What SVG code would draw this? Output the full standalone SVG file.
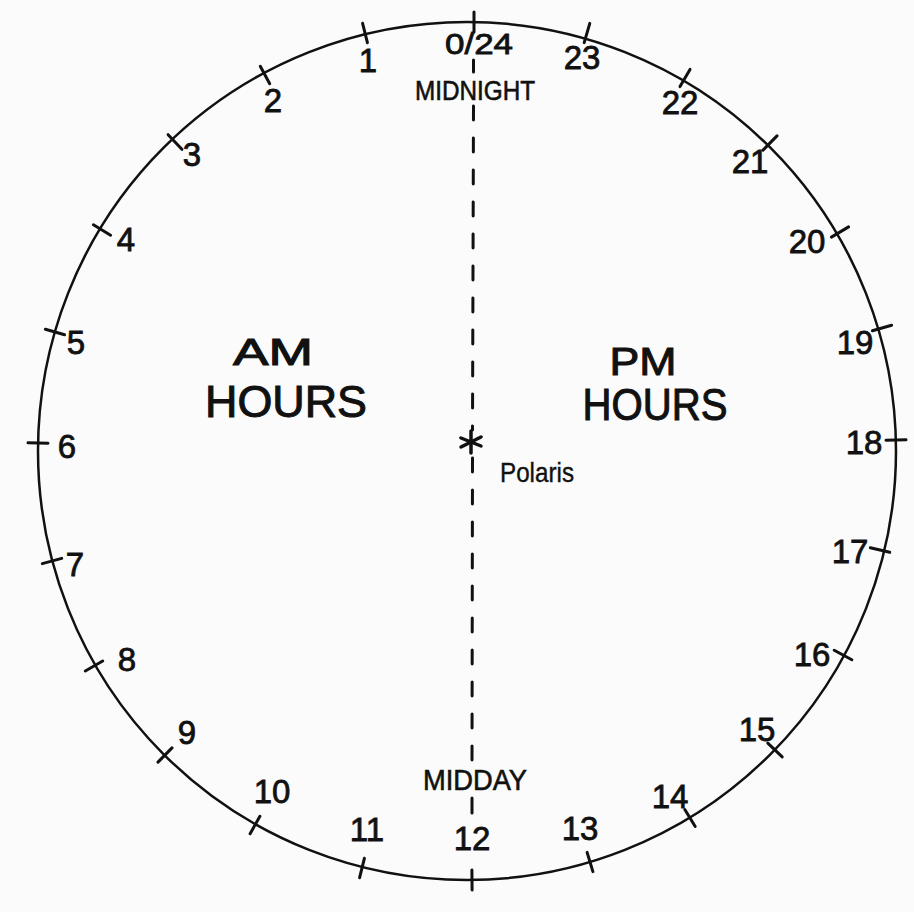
<svg xmlns="http://www.w3.org/2000/svg" width="914" height="912" viewBox="0 0 914 912">
<style>
.ink{stroke:#111;fill:none;stroke-linecap:round}
.tick{stroke:#111;stroke-width:3;stroke-linecap:round}
.num{font-family:"Liberation Sans","DejaVu Sans",sans-serif;font-size:33px;fill:#111;stroke:#111;stroke-width:0.8;text-anchor:middle}
.cap{font-family:"Liberation Sans","DejaVu Sans",sans-serif;font-size:27px;fill:#111;stroke:#111;stroke-width:0.6;text-anchor:middle}
.big{font-family:"Liberation Sans","DejaVu Sans",sans-serif;font-size:44px;fill:#111;stroke:#111;stroke-width:1;text-anchor:middle}
</style>
<rect width="914" height="912" fill="#fbfbfb"/>
<g id="dial">
<circle class="ink" cx="467" cy="451" r="429" stroke-width="2.5"/>
</g>
<g id="ticks">
<line class="tick" x1="474" y1="12" x2="474" y2="32"/>
<line class="tick" x1="362.6" y1="23.3" x2="367.4" y2="42.7"/>
<line class="tick" x1="260.3" y1="66.2" x2="269.7" y2="83.8"/>
<line class="tick" x1="168.1" y1="134.7" x2="181.9" y2="149.3"/>
<line class="tick" x1="93.4" y1="224.8" x2="110.6" y2="235.2"/>
<line class="tick" x1="45.4" y1="329.2" x2="64.6" y2="334.8"/>
<line class="tick" x1="28" y1="442.8" x2="48" y2="443.2"/>
<line class="tick" x1="61.7" y1="558.4" x2="42.3" y2="563.6"/>
<line class="tick" x1="102.7" y1="661" x2="85.3" y2="671"/>
<line class="tick" x1="172" y1="747.9" x2="158" y2="762.1"/>
<line class="tick" x1="259.9" y1="816.3" x2="250.1" y2="833.7"/>
<line class="tick" x1="364.4" y1="858.3" x2="359.6" y2="877.7"/>
<line class="tick" x1="471.9" y1="870" x2="472.1" y2="890"/>
<line class="tick" x1="587.1" y1="852.4" x2="592.9" y2="871.6"/>
<line class="tick" x1="684.8" y1="809.5" x2="695.2" y2="826.5"/>
<line class="tick" x1="767.8" y1="743.1" x2="782.2" y2="756.9"/>
<line class="tick" x1="834.2" y1="650.2" x2="851.8" y2="659.8"/>
<line class="tick" x1="870.3" y1="547.7" x2="889.7" y2="552.3"/>
<line class="tick" x1="886" y1="440.3" x2="906" y2="439.7"/>
<line class="tick" x1="872.4" y1="330.8" x2="891.6" y2="325.2"/>
<line class="tick" x1="831.4" y1="237.1" x2="848.6" y2="226.9"/>
<line class="tick" x1="763" y1="150.1" x2="777" y2="135.9"/>
<line class="tick" x1="680" y1="86.6" x2="690" y2="69.4"/>
<line class="tick" x1="584.2" y1="42.6" x2="589.8" y2="23.4"/>
</g>
<g id="connectors">
<line class="ink" stroke-width="3" x1="473.5" y1="60" x2="473.5" y2="72"/>
<line class="ink" stroke-width="3" stroke-dasharray="14 18" x1="473.5" y1="106" x2="472.5" y2="430"/>
<line class="ink" stroke-width="3" stroke-dasharray="14 18" x1="472.5" y1="458" x2="472" y2="764"/>
<line class="ink" stroke-width="3" x1="472" y1="798" x2="472" y2="813"/>
</g>
<g id="polaris">
<g class="ink" stroke-width="3.5" transform="translate(471,442)">
<line x1="0" y1="-11" x2="0" y2="11"/>
<line x1="-10" y1="-4" x2="10" y2="4"/>
<line x1="-10" y1="5" x2="10" y2="-5"/>
</g>
<text x="537" y="482" class="cap" style="font-size:28px;stroke-width:0.4" textLength="74" lengthAdjust="spacingAndGlyphs">Polaris</text>
</g>
<g id="labels">
<text x="479" y="54" class="num" style="font-size:30px" textLength="68" lengthAdjust="spacingAndGlyphs">0/24</text>
<text x="475" y="100" class="cap" textLength="120" lengthAdjust="spacingAndGlyphs">MIDNIGHT</text>
<text x="475" y="790" class="cap" style="font-size:29px" textLength="104" lengthAdjust="spacingAndGlyphs">MIDDAY</text>
<text x="368" y="72" class="num">1</text>
<text x="273" y="112" class="num">2</text>
<text x="192" y="166" class="num">3</text>
<text x="126" y="251" class="num">4</text>
<text x="76" y="354" class="num">5</text>
<text x="67" y="458" class="num">6</text>
<text x="75" y="576" class="num">7</text>
<text x="127" y="671" class="num">8</text>
<text x="187" y="744" class="num">9</text>
<text x="272" y="803" class="num">10</text>
<text x="367" y="841" class="num">11</text>
<text x="472" y="850" class="num">12</text>
<text x="580" y="840" class="num">13</text>
<text x="670" y="808" class="num">14</text>
<text x="757" y="741" class="num">15</text>
<text x="812" y="666" class="num">16</text>
<text x="850" y="563" class="num">17</text>
<text x="864" y="454" class="num">18</text>
<text x="855" y="354" class="num">19</text>
<text x="807" y="253" class="num">20</text>
<text x="750" y="173" class="num">21</text>
<text x="680" y="114" class="num">22</text>
<text x="582" y="69" class="num">23</text>
</g>
<g id="am-hours">
<text x="273" y="365" class="big" style="font-size:36px" textLength="80" lengthAdjust="spacingAndGlyphs">AM</text>
<text x="286" y="417" class="big" textLength="162" lengthAdjust="spacingAndGlyphs">HOURS</text>
</g>
<g id="pm-hours">
<text x="643" y="375" class="big" style="font-size:38px" textLength="67" lengthAdjust="spacingAndGlyphs">PM</text>
<text x="655" y="420" class="big" textLength="145" lengthAdjust="spacingAndGlyphs">HOURS</text>
</g>
</svg>
